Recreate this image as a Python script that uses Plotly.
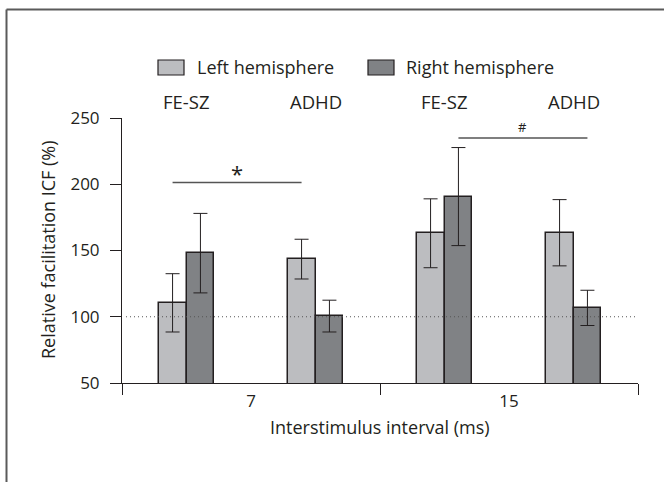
import plotly.graph_objects as go

# ---- data ----
intervals = ["7", "15"]               # interstimulus interval (ms)
groups = ["FE-SZ", "ADHD"]
left_mean = [110.5, 143.5, 163.0, 163.4]   # order: 7 FE-SZ, 7 ADHD, 15 FE-SZ, 15 ADHD
left_err = [22.0, 15.0, 26.0, 25.0]
right_mean = [148.0, 100.5, 190.7, 106.7]
right_err = [30.0, 12.0, 37.0, 13.3]
y_ticks = [50, 100, 150, 200, 250]
baseline = 100
sig_star_y = 201.3
sig_hash_y = 235.0

# ---- layout geometry ----
W, H = 664, 482
L, R, T, B = 122, 26, 118, 99
PW, PH = W - L - R, H - T - B
FONT = "Open Sans"
TXT = "#231f20"
LIGHT = "#bcbdc0"
DARK = "#808285"

def px(x):
    return (x - L) / PW

def py(y):
    return (H - B - y) / PH

group_offset = [0.25, 0.75]
bar_off = 0.054
bar_w = 0.108

centers = []
labels_grp = []
for i, _ in enumerate(intervals):
    for j, g in enumerate(groups):
        centers.append(i + group_offset[j])
        labels_grp.append(g)

xl = [c - bar_off for c in centers]
xr = [c + bar_off for c in centers]

err_style = dict(type="data", thickness=1, width=7, color=TXT)

fig = go.Figure()
fig.add_trace(go.Bar(
    x=xl, y=left_mean, width=bar_w, name="Left hemisphere",
    marker=dict(color=LIGHT, line=dict(color=TXT, width=1.5)),
    error_y=dict(array=left_err, **err_style), showlegend=False,
))
fig.add_trace(go.Bar(
    x=xr, y=right_mean, width=bar_w, name="Right hemisphere",
    marker=dict(color=DARK, line=dict(color=TXT, width=1.5)),
    error_y=dict(array=right_err, **err_style), showlegend=False,
))

shapes = []
# dotted reference line
shapes.append(dict(type="line", xref="paper", yref="y", x0=px(126), x1=1, y0=baseline, y1=baseline,
                   line=dict(color="#555", width=1, dash="1px,3px"), layer="above"))
# significance lines
shapes.append(dict(type="line", xref="x", yref="y", x0=xl[0], x1=xl[1], y0=sig_star_y, y1=sig_star_y,
                   line=dict(color="#555", width=1.5)))
shapes.append(dict(type="line", xref="x", yref="y", x0=xr[2], x1=xr[3], y0=sig_hash_y, y1=sig_hash_y,
                   line=dict(color="#555", width=1.5)))
# legend boxes
for x0, col in [(158, LIGHT), (368, DARK)]:
    shapes.append(dict(type="rect", xref="paper", yref="paper", x0=px(x0), x1=px(x0 + 26),
                       y0=py(75), y1=py(60), fillcolor=col, line=dict(color=TXT, width=1.2)))
# frame
shapes.append(dict(type="line", xref="paper", yref="paper", x0=px(6.5), x1=px(W + 5), y0=py(9.5), y1=py(9.5),
                   line=dict(color="#5a5a5a", width=2)))
shapes.append(dict(type="line", xref="paper", yref="paper", x0=px(6.5), x1=px(6.5), y0=py(9.5), y1=py(H + 5),
                   line=dict(color="#5a5a5a", width=2)))

ann = []
fs = 18
fs_tick = 17
ann.append(dict(text="Left hemisphere", xref="paper", yref="paper", x=px(195), y=py(67.5),
                xanchor="left", yanchor="middle", showarrow=False, font=dict(size=fs, color=TXT, family=FONT)))
ann.append(dict(text="Right hemisphere", xref="paper", yref="paper", x=px(404), y=py(67.5),
                xanchor="left", yanchor="middle", showarrow=False, font=dict(size=fs, color=TXT, family=FONT)))
for c, g in zip(centers, labels_grp):
    ann.append(dict(text=g, xref="x", yref="paper", x=c, y=py(101), xanchor="center", yanchor="middle",
                    showarrow=False, font=dict(size=18.5, color=TXT, family=FONT)))
ann.append(dict(text="*", xref="x", yref="y", x=(xl[0] + xl[1]) / 2, y=sig_star_y, xanchor="center",
                yanchor="bottom", yshift=-7, showarrow=False, font=dict(size=22, color=TXT, family=FONT)))
ann.append(dict(text="#", xref="x", yref="y", x=(xr[2] + xr[3]) / 2, y=sig_hash_y, xanchor="center",
                yanchor="bottom", yshift=0, showarrow=False, font=dict(size=13, color=TXT, family=FONT)))
ann.append(dict(text="Interstimulus interval (ms)", xref="paper", yref="paper", x=px(380), y=py(427),
                xanchor="center", yanchor="middle", showarrow=False, font=dict(size=fs, color=TXT, family=FONT)))
ann.append(dict(text="Relative facilitation ICF (%)", xref="paper", yref="paper", x=px(48), y=py(250),
                textangle=-90, xanchor="center", yanchor="middle", showarrow=False,
                font=dict(size=fs, color=TXT, family=FONT)))

fig.update_layout(
    width=W, height=H, margin=dict(l=L, r=R, t=T, b=B, pad=0),
    paper_bgcolor="white", plot_bgcolor="white",
    barmode="overlay", bargap=0,
    shapes=shapes, annotations=ann,
    font=dict(family=FONT, color=TXT, size=fs),
    xaxis=dict(range=[0, 2], tickmode="array", tickvals=[0.5, 1.5], ticktext=intervals,
               ticks="outside", ticklen=3, tickcolor="rgba(0,0,0,0)",
               showline=True, linecolor=TXT, linewidth=1, showgrid=False, zeroline=False,
               tickfont=dict(size=fs_tick, color=TXT, family=FONT),
               minor=dict(tickmode="array", tickvals=[0, 1, 2], ticks="outside", ticklen=11,
                          tickcolor=TXT, tickwidth=1, showgrid=False)),
    yaxis=dict(range=[50, 250], tickmode="array", tickvals=y_ticks, ticks="outside", ticklen=11,
               tickcolor=TXT, tickwidth=1, showline=True, linecolor=TXT, linewidth=1,
               ticklabelstandoff=7,
               showgrid=False, zeroline=False, tickfont=dict(size=fs_tick, color=TXT, family=FONT)),
)

fig.write_html("out.html")
